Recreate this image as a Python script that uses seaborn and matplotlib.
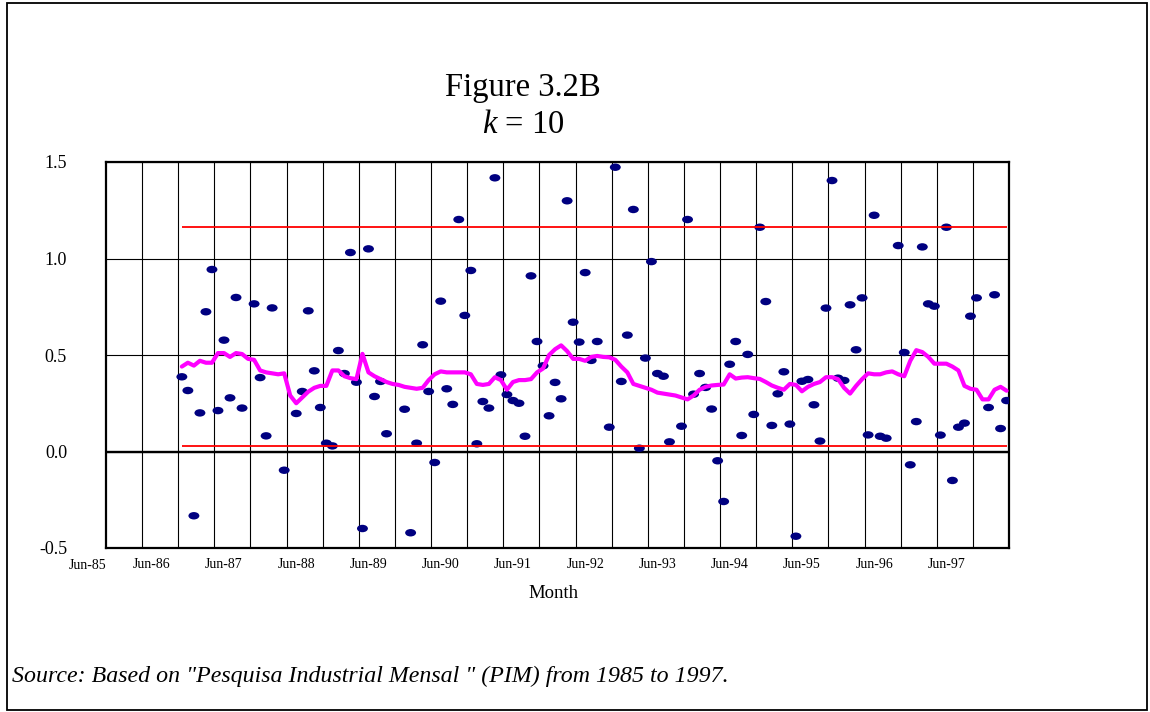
import numpy as np
import pandas as pd
import matplotlib
matplotlib.use("Agg")
import matplotlib.pyplot as plt
import seaborn as sns
from matplotlib.path import Path
from matplotlib.markers import MarkerStyle
from matplotlib.transforms import Affine2D, blended_transform_factory, ScaledTranslation
from matplotlib.patches import Rectangle
from matplotlib.ticker import FixedLocator

nan = np.nan

# ---------------- data ----------------
months = pd.period_range("1986-11", "1998-04", freq="M")

values = [0.387, 0.316, -0.333, 0.200, 0.724, 0.943, 0.212, 0.577, 0.278, 0.798,
          0.225, nan, 0.765, 0.383, 0.081, 0.744, nan, -0.097, nan, 0.197,
          0.311, 0.729, 0.418, 0.228, 0.043, 0.029, 0.523, 0.404, 1.031, 0.359,
          -0.399, 1.050, 0.285, 0.363, 0.092, nan, nan, 0.219, -0.421, 0.043,
          0.553, 0.311, -0.057, 0.779, 0.325, 0.244, 1.202, 0.705, 0.938, 0.040,
          0.259, 0.225, 1.418, 0.397, 0.295, 0.264, 0.250, 0.079, 0.910, 0.570,
          0.444, 0.185, 0.358, 0.273, 1.299, 0.670, 0.567, 0.927, 0.472, 0.570,
          nan, 0.126, 1.473, 0.363, 0.603, 1.254, 0.017, 0.484, 0.984, 0.404,
          0.390, 0.050, nan, 0.131, 1.202, 0.297, 0.404, 0.332, 0.220, -0.048,
          -0.259, 0.452, 0.570, 0.083, 0.503, 0.192, 1.162, 0.777, 0.135, 0.299,
          0.413, 0.142, -0.439, 0.364, 0.373, 0.242, 0.054, 0.743, 1.404, 0.380,
          0.368, 0.760, 0.527, 0.796, 0.086, 1.224, 0.079, 0.069, nan, 1.067,
          0.513, -0.069, 0.155, 1.060, 0.765, 0.753, 0.085, 1.162, -0.150, 0.126,
          0.147, 0.701, 0.796, nan, 0.228, 0.812, 0.119, 0.264]

moving_avg = [0.44, 0.46, 0.445, 0.47, 0.46, 0.46, 0.51, 0.51, 0.49, 0.51,
              0.505, 0.48, 0.475, 0.42, 0.41, 0.405, 0.40, 0.405, 0.29, 0.25,
              0.28, 0.31, 0.33, 0.34, 0.34, 0.42, 0.42, 0.39, 0.38, 0.375,
              0.506, 0.41, 0.39, 0.375, 0.36, 0.35, 0.345, 0.335, 0.33, 0.325,
              0.33, 0.37, 0.40, 0.415, 0.41, 0.41, 0.41, 0.41, 0.40, 0.35,
              0.345, 0.35, 0.385, 0.37, 0.32, 0.36, 0.37, 0.37, 0.375, 0.41,
              0.43, 0.50, 0.53, 0.55, 0.52, 0.48, 0.48, 0.47, 0.49, 0.495,
              0.49, 0.488, 0.475, 0.44, 0.41, 0.35, 0.34, 0.33, 0.32, 0.305,
              0.30, 0.295, 0.29, 0.28, 0.27, 0.29, 0.32, 0.335, 0.342, 0.345,
              0.347, 0.40, 0.378, 0.383, 0.385, 0.38, 0.376, 0.36, 0.342, 0.33,
              0.32, 0.35, 0.345, 0.312, 0.335, 0.35, 0.36, 0.385, 0.385, 0.375,
              0.33, 0.30, 0.34, 0.375, 0.405, 0.40, 0.40, 0.41, 0.415, 0.40,
              0.39, 0.47, 0.525, 0.515, 0.49, 0.455, 0.455, 0.455, 0.44, 0.42,
              0.34, 0.325, 0.32, 0.27, 0.27, 0.32, 0.335, 0.315]

upper_limit = 1.161
lower_limit = 0.026

label_years = list(range(1986, 1998))
first_label = "Jun-85"
x_labels = [f"Jun-{y % 100:02d}" for y in label_years]
y_ticks = [-0.5, 0.0, 0.5, 1.0, 1.5]
y_labels = ["-0.5", "0.0", "0.5", "1.0", "1.5"]

# month position: months since Jan 1985, at month centres
mpos = (np.asarray(months.year) - 1985) * 12 + np.asarray(months.month) - 1 + 0.5
df = pd.DataFrame({"x": mpos, "value": values, "avg": moving_avg})
label_pos = [(y - 1985) * 12 + 5.5 for y in label_years]

# axis window (150 months, gridlines every 6 months)
x_start = 9.9
x_end = x_start + 150

# ---------------- style ----------------
sns.set_theme(style="white")
plt.rcParams["font.family"] = ["Liberation Serif", "DejaVu Serif"]
plt.rcParams["mathtext.fontset"] = "custom"
plt.rcParams["mathtext.it"] = "Liberation Serif:italic"
plt.rcParams["mathtext.rm"] = "Liberation Serif"

W, H = 1150, 712
fig = plt.figure(figsize=(W / 100, H / 100), dpi=100)
fig.patch.set_facecolor("white")
L, R, T, B = 106, 1009, 162, 548
ax = fig.add_axes([L / W, 1 - B / H, (R - L) / W, (B - T) / H])
ax.set_facecolor("white")

# ellipse marker
ell = Path.unit_circle().transformed(Affine2D().scale(1.0, 0.68))
marker = MarkerStyle(ell)

sns.scatterplot(data=df, x="x", y="value", marker=marker, s=62, color="#000080",
                edgecolor="none", linewidth=0, ax=ax, zorder=3, legend=False)
sns.lineplot(data=df, x="x", y="avg", color="#FF00FF", lw=3.0, ax=ax, zorder=4,
             legend=False, estimator=None, sort=False)
ax.hlines([upper_limit, lower_limit], df["x"].iloc[0], df["x"].iloc[-1],
          colors="#FF0000", lw=1.3, zorder=5)

ax.set_xlim(x_start, x_end)
ax.set_ylim(-0.5, 1.5)

# gridlines
ax.xaxis.set_minor_locator(FixedLocator(x_start + 6 * np.arange(1, 25)))
ax.grid(which="minor", axis="x", color="black", lw=0.8, zorder=1)
ax.set_yticks(y_ticks)
ax.set_yticklabels(y_labels)
ax.grid(which="major", axis="y", color="black", lw=0.8, zorder=1)
ax.axhline(0.0, color="black", lw=1.7, zorder=2)

ax.set_xticks(label_pos)
ax.set_xticklabels(x_labels)
ax.tick_params(axis="x", which="both", length=0, pad=7, labelsize=10, colors="black")
ax.tick_params(axis="y", which="both", length=0, pad=28, labelsize=13, colors="black")
for lab in ax.get_yticklabels():
    lab.set_horizontalalignment("right")

ax.set_xlabel("")
ax.set_ylabel("")
for s in ax.spines.values():
    s.set_color("black")
    s.set_linewidth(1.6)
    s.set_visible(True)

# first label, shifted inward as in the original
tr = blended_transform_factory(ax.transAxes, ax.transAxes) + ScaledTranslation(-18 / 100, -17.7 / 100, fig.dpi_scale_trans)
ax.text(0, 0, first_label, transform=tr, ha="center", va="center", fontsize=10, color="black")

# titles & labels
fig.text(523 / W, 1 - 88 / H, "Figure 3.2B", ha="center", va="center", fontsize=23.5, color="black")
fig.text(523 / W, 1 - 125 / H, r"$k$ = 10", ha="center", va="center", fontsize=23.5, color="black")
fig.text(553 / W, 1 - 593 / H, "Month", ha="center", va="center", fontsize=13.5, color="black")
fig.text(12 / W, 1 - 676 / H,
         'Source: Based on "Pesquisa Industrial Mensal " (PIM) from 1985 to 1997.',
         ha="left", va="center", fontsize=17.2, style="italic", color="black")

# outer frame
fig.patches.append(Rectangle((6.5 / W, 2.5 / H), (1147 - 6.5) / W, (709.5 - 2.5) / H,
                             transform=fig.transFigure, fill=False, edgecolor="black",
                             lw=1.3, zorder=10))

fig.savefig("out.png", dpi=100, facecolor="white")
